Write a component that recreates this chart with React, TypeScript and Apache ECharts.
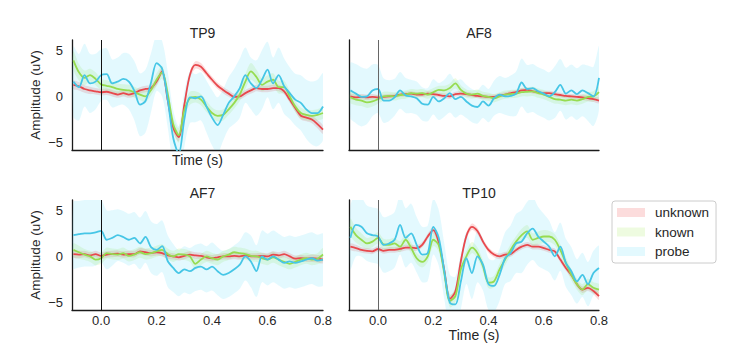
import React, { useEffect, useRef } from "react";
import * as echarts from "echarts";

// time grid (s)
const TIME = [
  -0.1, -0.08, -0.06, -0.04, -0.02, 0, 0.02, 0.04, 0.06, 0.08,
  0.1, 0.12, 0.14, 0.16, 0.18, 0.2, 0.22, 0.24, 0.26, 0.28,
  0.3, 0.32, 0.34, 0.36, 0.38, 0.4, 0.42, 0.44, 0.46, 0.48,
  0.5, 0.52, 0.54, 0.56, 0.58, 0.6, 0.62, 0.64, 0.66, 0.68,
  0.7, 0.72, 0.74, 0.76, 0.78, 0.8,
];

const CONDITIONS = ["unknown", "known", "probe"];
const CHANNELS = ["TP9", "AF8", "AF7", "TP10"];
const X_TICKS = [0, 0.2, 0.4, 0.6, 0.8];
const Y_TICKS = [-5, 0, 5];

// ---------- TP9 ----------
const tp9Unknown = [
  1.25, 1.1, 0.8, 0.65, 0.55, 0.45, 0.5, 0.35, 0.2, 0.35,
  0.2, 0.35, 0.65, 0.8, 0.9, 1.6, 2.7, -0.4, -3.4, -4.4,
  -0.9, 2.3, 3.4, 3.2, 2.5, 1.8, 1.15, 0.7, 0.3, -0.05,
  0, 0.35, 0.65, 0.9, 0.8, 0.8, 0.9, 0.9, 0.55, -0.35,
  -1.25, -2.1, -2.3, -2.5, -3.0, -3.6,
];
const tp9Known = [
  3.9, 2.6, 2.0, 2.3, 1.9, 1.3, 1.15, 1.0, 0.8, 0.7,
  0.65, 0.45, 0.2, 0, 0.7, 1.8, 2.6, 0.3, -3.0, -4.2,
  -1.5, -0.2, -0.05, -0.35, -1.1, -1.8, -2.1, -2.0, -1.4, -0.7,
  0.2, 1.6, 2.7, 2.1, 1.25, 1.6, 1.8, 1.0, 1.0, 0,
  -1.1, -1.8, -2.0, -2.1, -2.0, -1.8,
];
const tp9Probe = [
  1.6, 1.0, 2.3, 1.4, 1.6, 2.3, 2.4, 1.4, 1.6, 1.9,
  1.6, 0.6, -0.9, -0.5, 1.5, 3.6, 3.0, -0.3, -4.5, -6.2,
  -2.5, -0.1, -0.2, 0, -1.1, -2.3, -3.1, -2.0, -0.7, 0,
  0.9, 2.3, 1.4, 0.9, 1.8, 2.9, 1.4, 2.3, 1.1, 0.35,
  -0.35, -0.7, -1.4, -1.8, -1.8, -1.1,
];
const tp9UnknownCi = [
  0.45, 0.45, 0.4, 0.4, 0.35, 0.35, 0.35, 0.35, 0.35, 0.35,
  0.35, 0.35, 0.35, 0.35, 0.35, 0.4, 0.4, 0.4, 0.45, 0.45,
  0.45, 0.4, 0.4, 0.4, 0.35, 0.35, 0.35, 0.35, 0.35, 0.35,
  0.35, 0.35, 0.35, 0.35, 0.35, 0.35, 0.35, 0.35, 0.35, 0.35,
  0.4, 0.4, 0.4, 0.4, 0.45, 0.45,
];
const tp9KnownCi = [
  1.0, 0.9, 0.8, 0.7, 0.7, 0.6, 0.6, 0.6, 0.6, 0.6,
  0.6, 0.6, 0.6, 0.6, 0.6, 0.7, 0.7, 0.7, 0.7, 0.8,
  0.7, 0.7, 0.6, 0.6, 0.6, 0.6, 0.6, 0.6, 0.6, 0.6,
  0.7, 0.8, 0.9, 0.8, 0.7, 0.7, 0.7, 0.7, 0.7, 0.6,
  0.6, 0.6, 0.6, 0.6, 0.6, 0.6,
];
const tp9ProbeCi = [
  3.8, 3.6, 3.4, 3.2, 3.0, 2.8, 2.8, 2.6, 2.6, 2.8,
  3.0, 3.2, 3.4, 3.4, 3.2, 3.0, 3.0, 3.0, 3.0, 3.0,
  3.0, 2.8, 2.6, 2.6, 2.8, 3.0, 3.0, 2.8, 2.8, 3.0,
  3.2, 3.0, 2.8, 3.0, 3.2, 3.0, 2.8, 3.0, 3.0, 2.8,
  2.8, 3.0, 3.2, 3.4, 3.6, 3.6,
];

// ---------- AF8 ----------
const af8Unknown = [
  0, -0.1, -0.05, -0.1, -0.05, -0.1, -0.05, 0, 0.05, 0.2,
  0.25, 0.3, 0.2, 0.2, 0.3, 0.25, 0.15, 0.05, 0, 0.25,
  0.3, 0.25, 0.15, 0.05, 0, -0.05, -0.05, 0.1, 0.2, 0.35,
  0.45, 0.65, 0.7, 0.55, 0.45, 0.35, 0.35, 0.25, 0.15, 0.05,
  0, -0.05, -0.1, -0.2, -0.3, -0.45,
];
const af8Known = [
  -0.1, -0.35, -0.45, -0.65, -0.55, -0.3, 0, 0.05, 0, 0.15,
  0.2, 0.35, 0.3, 0.35, 0.2, 0.45, 0.7, 0.65, 0.9, 1.4,
  0.7, 0.3, 0.2, 0.3, 0.05, -0.05, -0.2, 0, 0.2, 0.25,
  0.3, 0.45, 0.5, 0.55, 0.35, 0.2, -0.05, -0.3, -0.35, -0.45,
  -0.35, -0.45, -0.3, -0.05, 0, 0.45,
];
const af8Probe = [
  0.65, 0.3, -0.05, 0, 0.65, 0.8, -0.45, -0.45, -0.1, 0.65,
  0.1, 0, -0.2, -0.8, -0.9, -0.05, -0.55, -0.2, 0.35, -0.3,
  -0.05, -0.55, -1.0, -1.15, -0.55, -1.0, -0.2, 0.2, 0, 0.05,
  0.3, 1.5, 0.8, 0.9, 0.55, 0.3, 0, 0.45, 1.25, 0.3,
  0.65, 0.25, 0.65, 0.35, 0, 2.0,
];
const af8UnknownCi = [
  0.3, 0.3, 0.3, 0.3, 0.3, 0.25, 0.25, 0.25, 0.25, 0.25,
  0.25, 0.25, 0.25, 0.25, 0.25, 0.25, 0.25, 0.25, 0.25, 0.25,
  0.25, 0.25, 0.25, 0.25, 0.25, 0.25, 0.25, 0.25, 0.25, 0.25,
  0.25, 0.25, 0.25, 0.25, 0.25, 0.25, 0.25, 0.25, 0.25, 0.25,
  0.25, 0.25, 0.3, 0.3, 0.3, 0.3,
];
const af8KnownCi = [
  0.6, 0.6, 0.6, 0.6, 0.55, 0.5, 0.5, 0.45, 0.45, 0.45,
  0.45, 0.45, 0.45, 0.45, 0.45, 0.45, 0.45, 0.5, 0.5, 0.55,
  0.5, 0.45, 0.45, 0.45, 0.45, 0.45, 0.45, 0.45, 0.45, 0.45,
  0.45, 0.45, 0.5, 0.5, 0.5, 0.5, 0.5, 0.5, 0.5, 0.5,
  0.5, 0.5, 0.5, 0.5, 0.55, 0.6,
];
const af8ProbeCi = [
  3.0, 3.2, 3.2, 3.0, 2.8, 2.6, 2.4, 2.2, 2.0, 2.0,
  1.9, 1.8, 1.8, 1.8, 1.8, 1.9, 2.0, 2.0, 2.1, 2.0,
  1.9, 1.8, 1.8, 1.8, 1.8, 1.8, 1.9, 2.0, 2.0, 2.2,
  2.4, 2.6, 2.6, 2.6, 2.6, 2.6, 2.6, 2.8, 2.8, 2.8,
  2.8, 2.8, 2.8, 3.0, 3.2, 3.4,
];

// ---------- AF7 ----------
const af7Unknown = [
  0.25, 0.2, 0.25, 0.1, 0.25, 0.05, 0.2, 0.25, 0.3, 0.2,
  0.25, 0.25, 0.55, 0.45, 0.35, 0.45, 0.35, 0.1, 0, -0.1,
  0.05, 0.2, 0.1, 0.05, -0.1, -0.2, -0.1, 0, 0, 0.05,
  0, 0.1, 0, 0, 0.05, 0, 0.2, 0.1, 0.25, 0,
  -0.25, -0.2, -0.25, -0.2, -0.25, -0.35,
];
const af7Known = [
  0.7, 0.45, 0.2, 0, -0.35, -0.2, 0.35, 0.25, 0.2, 0.35,
  0.05, 0.2, 0.45, 0.25, 0.35, 0.55, 0.7, 0.25, 0, 0.25,
  0.2, 0, -0.8, -0.35, 0, -0.2, -0.35, 0, 0.2, 0.45,
  0.35, 0.25, 0.05, 0, -0.2, -0.35, -0.1, -0.35, -0.6, -0.8,
  -0.6, -0.35, -0.2, -0.35, -0.25, 0.2,
];
const af7Probe = [
  2.3, 2.4, 2.5, 2.5, 2.6, 2.75, 1.8, 2.0, 2.3, 2.1,
  1.8, 2.0, 1.4, 2.1, 1.0, 0.7, 1.1, -0.5, -1.25, -1.8,
  -1.4, -1.6, -1.25, -1.1, -1.4, -1.1, -1.6, -2.0, -1.8, -1.4,
  -0.9, 0, -0.55, -1.6, 0, -0.35, 0, -0.35, -0.7, -0.55,
  -0.7, -0.55, -0.35, -0.2, -0.45, -0.35,
];
const af7UnknownCi = [
  0.4, 0.4, 0.35, 0.35, 0.35, 0.35, 0.35, 0.35, 0.35, 0.35,
  0.35, 0.35, 0.35, 0.35, 0.35, 0.35, 0.35, 0.35, 0.35, 0.35,
  0.35, 0.35, 0.35, 0.35, 0.35, 0.35, 0.35, 0.35, 0.35, 0.35,
  0.35, 0.35, 0.35, 0.35, 0.35, 0.35, 0.35, 0.35, 0.35, 0.35,
  0.35, 0.35, 0.35, 0.4, 0.4, 0.4,
];
const af7KnownCi = [
  0.7, 0.7, 0.6, 0.6, 0.6, 0.6, 0.6, 0.6, 0.6, 0.6,
  0.6, 0.6, 0.6, 0.6, 0.6, 0.6, 0.6, 0.6, 0.6, 0.6,
  0.6, 0.6, 0.6, 0.6, 0.6, 0.6, 0.6, 0.6, 0.6, 0.6,
  0.6, 0.6, 0.6, 0.6, 0.6, 0.6, 0.6, 0.6, 0.6, 0.6,
  0.6, 0.6, 0.6, 0.6, 0.6, 0.7,
];
const af7ProbeCi = [
  3.6, 3.6, 3.6, 3.6, 3.6, 3.4, 3.2, 3.0, 2.8, 2.8,
  2.8, 2.8, 2.8, 2.8, 2.8, 2.8, 2.8, 2.8, 2.6, 2.5,
  2.5, 2.5, 2.5, 2.5, 2.5, 2.6, 2.6, 2.6, 2.6, 2.6,
  2.6, 2.6, 2.8, 2.8, 2.8, 2.8, 2.8, 2.8, 2.8, 2.8,
  2.8, 2.8, 2.8, 2.8, 2.8, 2.8,
];

// ---------- TP10 ----------
const tp10Unknown = [
  1.05, 0.9, 0.7, 0.6, 0.55, 0.8, 0.6, 0.7, 0.7, 0.8,
  0.95, 0.95, 0.9, 1.25, 2.15, 2.85, 1.5, -1.5, -4.6, -3.8,
  -0.5, 2.2, 3.2, 2.75, 1.6, 0.7, 0.2, 0, 0.2, 0.25,
  0.7, 1.05, 1.25, 1.05, 1.05, 0.9, 0.7, 0.55, -0.35, -1.25,
  -2.0, -3.0, -3.6, -3.4, -3.75, -4.3,
];
const tp10Known = [
  3.2, 2.3, 1.8, 1.4, 1.6, 2.0, 1.3, 1.25, 1.4, 1.05,
  1.8, 0.9, -0.2, -0.6, 0, 1.8, 1.2, -1.8, -4.8, -4.3,
  -1.4, 0, 0.95, 0.35, -1.05, -2.85, -2.7, -1.4, -0.35, 0.7,
  1.6, 2.3, 2.7, 1.8, 2.0, 2.15, 2.15, 1.8, 0.7, -0.7,
  -2.0, -3.0, -3.6, -3.0, -3.4, -3.6,
];
const tp10Probe = [
  2.0, 3.4, 3.2, 2.5, 2.3, 2.15, 1.25, 1.4, 1.8, 3.4,
  2.0, 2.5, 1.25, 0.2, 0.35, 3.2, 2.0, -1.6, -5.0, -5.2,
  -2.7, -0.2, -1.8, 0, -0.9, -3.0, -3.2, -2.0, -0.2, 0.35,
  1.4, 1.6, 2.5, 3.0, 2.15, 1.6, 1.05, 0, 1.05, -0.7,
  -1.6, -2.7, -2.0, -3.0, -1.8, -1.25,
];
const tp10UnknownCi = [
  0.35, 0.35, 0.3, 0.3, 0.3, 0.3, 0.3, 0.3, 0.3, 0.3,
  0.3, 0.3, 0.3, 0.3, 0.3, 0.35, 0.35, 0.35, 0.4, 0.4,
  0.35, 0.35, 0.35, 0.35, 0.3, 0.3, 0.3, 0.3, 0.3, 0.3,
  0.3, 0.3, 0.3, 0.3, 0.3, 0.3, 0.3, 0.3, 0.3, 0.3,
  0.35, 0.35, 0.35, 0.35, 0.35, 0.4,
];
const tp10KnownCi = [
  0.9, 0.8, 0.7, 0.6, 0.6, 0.6, 0.6, 0.6, 0.6, 0.6,
  0.6, 0.6, 0.6, 0.6, 0.6, 0.7, 0.7, 0.7, 0.7, 0.7,
  0.7, 0.6, 0.6, 0.6, 0.6, 0.6, 0.6, 0.6, 0.6, 0.6,
  0.6, 0.7, 0.7, 0.7, 0.7, 0.7, 0.6, 0.6, 0.6, 0.6,
  0.6, 0.6, 0.6, 0.6, 0.6, 0.6,
];
const tp10ProbeCi = [
  3.4, 3.4, 3.2, 3.0, 3.0, 3.0, 3.0, 3.0, 3.0, 3.2,
  3.2, 3.2, 3.0, 3.0, 3.0, 3.0, 3.0, 3.0, 3.0, 3.0,
  3.0, 2.8, 2.8, 2.8, 2.8, 2.8, 2.8, 2.8, 2.8, 3.0,
  3.2, 3.4, 3.4, 3.4, 3.2, 3.0, 2.8, 2.6, 2.6, 2.6,
  2.6, 2.4, 2.4, 2.4, 2.4, 2.4,
];

const LINE_COLORS = ["#e8484d", "#96dc50", "#46c6e6"];
const BAND_COLORS = [
  "rgba(240,80,80,0.2)",
  "rgba(150,230,60,0.16)",
  "rgba(70,215,250,0.15)",
];
const FONT = "'Liberation Sans', Arial, Helvetica, sans-serif";
const INK = "#262626";

const PANELS = [
  {
    title: CHANNELS[0], left: 72, top: 40, width: 251, height: 110,
    xLabels: false, yLabels: true, xName: "Time (s)", xNameGap: 3, zeroColor: "#111",
    means: [tp9Unknown, tp9Known, tp9Probe], cis: [tp9UnknownCi, tp9KnownCi, tp9ProbeCi],
  },
  {
    title: CHANNELS[1], left: 349, top: 40, width: 250, height: 110,
    xLabels: false, yLabels: false, xName: "", xNameGap: 0, zeroColor: "#666",
    means: [af8Unknown, af8Known, af8Probe], cis: [af8UnknownCi, af8KnownCi, af8ProbeCi],
  },
  {
    title: CHANNELS[2], left: 72, top: 200, width: 251, height: 110,
    xLabels: true, yLabels: true, xName: "", xNameGap: 0, zeroColor: "#111",
    means: [af7Unknown, af7Known, af7Probe], cis: [af7UnknownCi, af7KnownCi, af7ProbeCi],
  },
  {
    title: CHANNELS[3], left: 349, top: 200, width: 250, height: 110,
    xLabels: true, yLabels: false, xName: "Time (s)", xNameGap: 16, zeroColor: "#666",
    means: [tp10Unknown, tp10Known, tp10Probe], cis: [tp10UnknownCi, tp10KnownCi, tp10ProbeCi],
  },
];

function buildOption() {
  const grid: any[] = [];
  const xAxis: any[] = [];
  const yAxis: any[] = [];
  const title: any[] = [];
  const series: any[] = [];

  PANELS.forEach((p, i) => {
    grid.push({ left: p.left, top: p.top, width: p.width, height: p.height });
    title.push({
      text: p.title,
      left: p.left + p.width / 2,
      top: p.top - 19,
      textAlign: "center",
      textStyle: { fontSize: 14, fontWeight: "normal", color: INK, fontFamily: FONT },
    });
    xAxis.push({
      type: "value",
      gridIndex: i,
      min: -0.105,
      max: 0.8,
      name: p.xName,
      nameLocation: "middle",
      nameGap: p.xNameGap,
      nameTextStyle: { fontSize: 14, color: INK, fontFamily: FONT, verticalAlign: "top" },
      axisLine: { show: true, onZero: false, lineStyle: { color: "#1a1a1a", width: 1.3 } },
      axisTick: { show: false },
      splitLine: { show: false },
      axisLabel: {
        show: p.xLabels,
        customValues: X_TICKS,
        formatter: (v: number) => v.toFixed(1),
        fontSize: 13,
        color: INK,
        fontFamily: FONT,
        margin: 4,
      },
    });
    yAxis.push({
      type: "value",
      gridIndex: i,
      min: -5.8,
      max: 6.1,
      name: p.yLabels ? "Amplitude (uV)" : "",
      nameLocation: "middle",
      nameGap: 30,
      nameTextStyle: { fontSize: 13.5, color: INK, fontFamily: FONT },
      axisLine: { show: true, onZero: false, lineStyle: { color: "#1a1a1a", width: 1.3 } },
      axisTick: { show: false },
      splitLine: { show: false },
      axisLabel: {
        show: p.yLabels,
        customValues: Y_TICKS,
        formatter: (v: number) => (v < 0 ? "\u2212" + Math.abs(v) : String(v)),
        fontSize: 13,
        color: INK,
        fontFamily: FONT,
        margin: 9,
      },
    });

    p.means.forEach((mean, j) => {
      const ci = p.cis[j];
      const rows = TIME.map((t, k) => [t, mean[k] - ci[k], mean[k] + ci[k]]);
      // confidence band as one polygon through the axis scales
      series.push({
        type: "custom",
        name: CONDITIONS[j],
        xAxisIndex: i,
        yAxisIndex: i,
        data: rows,
        encode: { x: 0, y: [1, 2] },
        clip: true,
        silent: true,
        itemStyle: { color: BAND_COLORS[j] },
        renderItem: (params: any, api: any) => {
          if (params.dataIndex !== 0) return null;
          const upper = rows.map((r) => api.coord([r[0], r[2]]));
          const lower = rows.map((r) => api.coord([r[0], r[1]])).reverse();
          return {
            type: "polygon",
            shape: { points: upper.concat(lower), smooth: 0.3 },
            style: { fill: BAND_COLORS[j], stroke: "none" },
            silent: true,
          };
        },
      });
      const line: any = {
        type: "line",
        name: CONDITIONS[j],
        xAxisIndex: i,
        yAxisIndex: i,
        data: TIME.map((t, k) => [t, mean[k]]),
        symbol: "none",
        smooth: 0.3,
        lineStyle: { color: LINE_COLORS[j], width: 1.8 },
        itemStyle: { color: LINE_COLORS[j] },
        silent: true,
      };
      if (j === 2) {
        line.markLine = {
          silent: true,
          symbol: ["none", "none"],
          label: { show: false },
          lineStyle: { color: p.zeroColor, width: 1, type: "solid" },
          emphasis: { disabled: true },
          data: [{ xAxis: 0 }],
        };
      }
      series.push(line);
    });
  });

  return {
    animation: false,
    backgroundColor: "#ffffff",
    textStyle: { fontFamily: FONT },
    title,
    grid,
    xAxis,
    yAxis,
    legend: {
      data: CONDITIONS.map((n, j) => ({
        name: n,
        icon: "rect",
        itemStyle: { color: BAND_COLORS[j], borderWidth: 0 },
      })),
      left: 612,
      top: 201,
      orient: "vertical",
      itemWidth: 28,
      itemHeight: 9,
      itemGap: 4.5,
      padding: [4, 7, 4, 5],
      borderColor: "#cccccc",
      borderWidth: 1,
      borderRadius: 3,
      backgroundColor: "#ffffff",
      selectedMode: false,
      textStyle: { fontSize: 13.5, color: INK, fontFamily: FONT, lineHeight: 15, padding: [0, 0, 0, 5] },
    },
    series,
  };
}

export default function App() {
  const ref = useRef<HTMLDivElement>(null);
  useEffect(() => {
    if (!ref.current) return;
    const chart = echarts.init(ref.current, null, { renderer: "svg" });
    chart.setOption(buildOption() as any);
    return () => chart.dispose();
  }, []);
  return (
    <div
      ref={ref}
      style={{ position: "fixed", left: 0, top: 0, width: 751, height: 358, background: "#fff" }}
    />
  );
}
